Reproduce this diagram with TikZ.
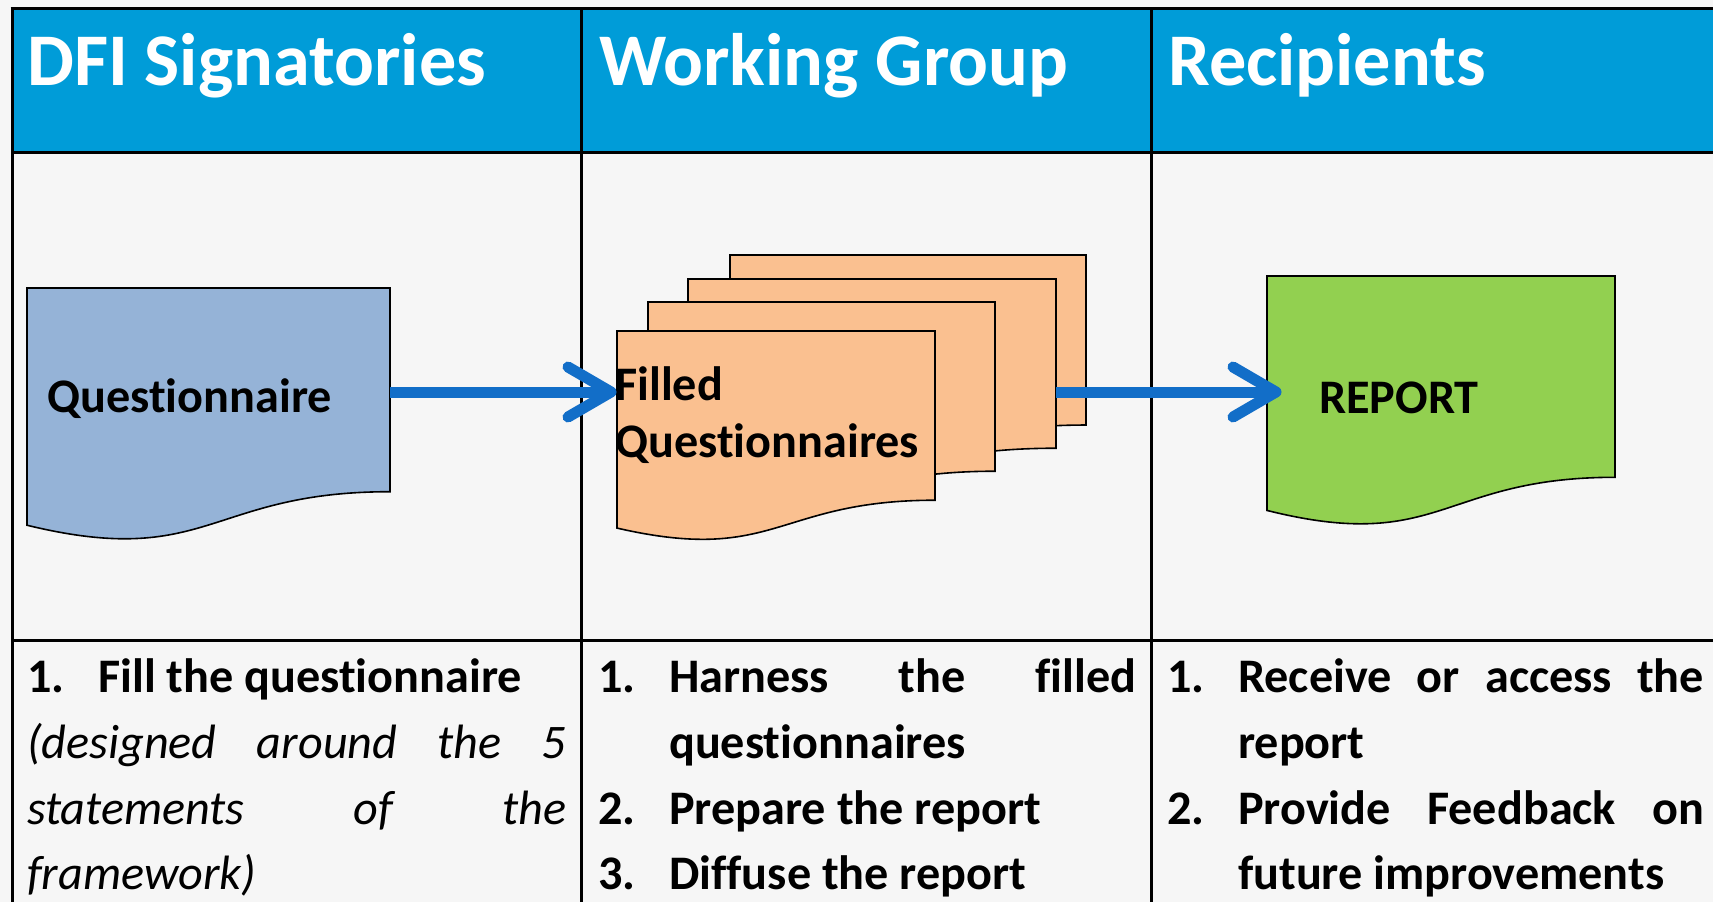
\documentclass[tikz,border=0pt]{standalone}
\usepackage{fontspec}
\setmainfont{Carlito}[RawFeature={-liga;-clig;-calt;-dlig}]
\definecolor{bgc}{RGB}{246,246,246}
\definecolor{hdr}{RGB}{0,156,216}
\definecolor{docblue}{RGB}{149,179,215}
\definecolor{docorange}{RGB}{250,192,144}
\definecolor{docgreen}{RGB}{146,208,80}
\definecolor{arrowblue}{RGB}{18,110,200}
\newcommand{\docshape}[5]{%
  \filldraw[docline,fill=#5] (#1,#2) -- ({#1+#3},#2) -- ({#1+#3},{#2+0.802*#4})
    .. controls ({#1+0.5*#3},{#2+0.802*#4}) and ({#1+0.5*#3},{#2+1.1075*#4}) ..
    (#1,{#2+0.934*#4}) -- cycle;}
\begin{document}
\begin{tikzpicture}[x=1pt,y=-1pt,
  grid/.style={line width=3pt,black},
  docline/.style={line width=1.6pt,black,line join=miter},
  hdrtext/.style={anchor=base west,inner sep=0pt,text=white,font=\fontsize{74.3}{80}\selectfont\bfseries},
  bodytext/.style={anchor=base west,inner sep=0pt,font=\fontsize{48.2}{57}\selectfont\bfseries},
  itext/.style={anchor=base west,inner sep=0pt,font=\fontsize{48.2}{57}\selectfont\itshape},
  shaft/.style={line width=11pt,arrowblue,line cap=butt},
  chevron/.style={line width=11pt,arrowblue,line cap=round,line join=round}]
\useasboundingbox (0,0) rectangle (1713,902);
\fill[bgc] (0,0) rectangle (1713,902);
% header band
\fill[hdr] (12,8) rectangle (1713,152);
% table lines
\draw[grid] (10.5,8) -- (1713,8);
\draw[grid] (12,152) -- (1713,152);
\draw[grid] (12,640) -- (1713,640);
\draw[grid] (12,8) -- (12,902);
\draw[grid] (581,8) -- (581,902);
\draw[grid] (1151,8) -- (1151,902);
% header texts
\node[hdrtext] (h1) at (27,85) {DFI Signatories};
\node[hdrtext] (h2) at (599,85) {Working Group};
\node[hdrtext] (h3) at (1168,85) {Recipients};
% document shapes
\docshape{27}{288}{363}{254}{docblue}
\docshape{730}{255}{356}{212}{docorange}
\docshape{688}{279}{368}{211}{docorange}
\docshape{648}{302}{347}{211}{docorange}
\docshape{617}{331}{318}{211}{docorange}
\docshape{1267}{276}{348}{251}{docgreen}
% shape labels
\node[bodytext] (tq) at (47,412) {Questionnaire};
\node[bodytext] (tf1) at (615,400) {Filled};
\node[bodytext] (tf2) at (615,457) {Questionnaires};
\node[bodytext] (tr) at (1319,413) {REPORT};
% connectors
\coordinate (qout) at (390,392);
\coordinate (fin) at (611,392);
\coordinate (fout) at (1056,392);
\coordinate (rin) at (1276,392);
\draw[shaft] (qout) -- ([xshift=-3pt]fin);
\draw[chevron] ([shift={(-43,-25)}]fin) -- (fin) -- ([shift={(-43,25)}]fin);
\draw[shaft] (fout) -- ([xshift=-3pt]rin);
\draw[chevron] ([shift={(-43,-25)}]rin) -- (rin) -- ([shift={(-43,25)}]rin);
% column 1 text
\node[bodytext] (a1n) at (27,692) {1.};
\node[bodytext] (a1t) at (98,692) {Fill the questionnaire};
\node[itext] (a2) at (27,758) {\hbox to 539pt{(designed\hfill around\hfill the\hfill 5}};
\node[itext] (a3) at (27,824) {\hbox to 539pt{statements\hfill of\hfill the}};
\node[itext] (a4) at (27,889) {framework)};
% column 2 text
\node[bodytext] (b1n) at (598,692) {1.};
\node[bodytext] (b1t) at (669,692) {\hbox to 467pt{Harness\hfill the\hfill filled}};
\node[bodytext] (b2) at (669,758) {questionnaires};
\node[bodytext] (b3n) at (598,824) {2.};
\node[bodytext] (b3t) at (669,824) {Prepare the report};
\node[bodytext] (b4n) at (598,889) {3.};
\node[bodytext] (b4t) at (669,889) {Diffuse the report};
% column 3 text
\node[bodytext] (c1n) at (1167,692) {1.};
\node[bodytext] (c1t) at (1238,692) {\hbox to 466pt{Receive\hfill or\hfill access\hfill the}};
\node[bodytext] (c2) at (1238,758) {report};
\node[bodytext] (c3n) at (1167,824) {2.};
\node[bodytext] (c3t) at (1238,824) {\hbox to 466pt{Provide\hfill Feedback\hfill on}};
\node[bodytext] (c4) at (1238,889) {future improvements};
\end{tikzpicture}
\end{document}
